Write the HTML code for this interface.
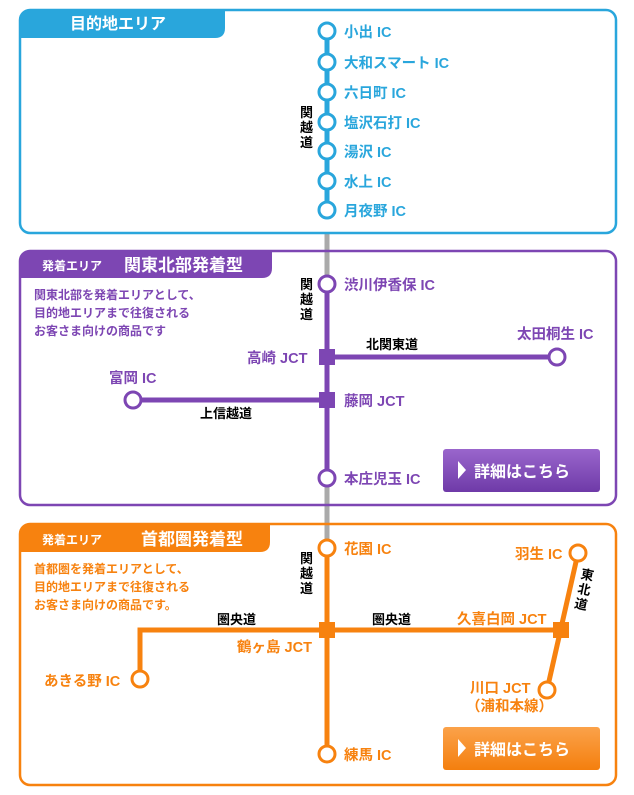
<!DOCTYPE html>
<html><head><meta charset="utf-8"><style>
body{margin:0;background:#fff}
svg text{font-family:"Liberation Sans","Noto Sans CJK JP",sans-serif;font-weight:bold}
</style></head><body>
<svg width="634" height="790" viewBox="0 0 634 790" xmlns="http://www.w3.org/2000/svg">
<defs>
<linearGradient id="pg" x1="0" y1="0" x2="0" y2="1"><stop offset="0" stop-color="#9a66cc"/><stop offset="1" stop-color="#6f3aa8"/></linearGradient>
<linearGradient id="og" x1="0" y1="0" x2="0" y2="1"><stop offset="0" stop-color="#fba24a"/><stop offset="1" stop-color="#f47f0e"/></linearGradient>
</defs>
<line x1="327" y1="215" x2="327" y2="280" stroke="#aaa" stroke-width="5"/>
<line x1="327" y1="485" x2="327" y2="545" stroke="#aaa" stroke-width="5"/>
<rect x="20" y="10" width="596" height="223" rx="10" fill="#fff" stroke="#29a6dc" stroke-width="2.5"/>
<path d="M20 20 Q20 10 30 10 L225 10 L225 28 Q225 38 215 38 L20 38 Z" fill="#29a6dc"/>
<text x="70" y="29" fill="#fff" font-size="16">目的地エリア</text>
<line x1="327" y1="31" x2="327" y2="210" stroke="#29a6dc" stroke-width="5"/>
<g fill="#fff" stroke="#29a6dc" stroke-width="3">
<circle cx="327" cy="31" r="8"/><circle cx="327" cy="62" r="8"/><circle cx="327" cy="92" r="8"/><circle cx="327" cy="122" r="8"/><circle cx="327" cy="151" r="8"/><circle cx="327" cy="181" r="8"/><circle cx="327" cy="210" r="8"/></g>
<g fill="#29a6dc" font-size="14.5">
<text x="344" y="37">小出 IC</text><text x="344" y="68">大和スマート IC</text><text x="344" y="98">六日町 IC</text><text x="344" y="128">塩沢石打 IC</text><text x="344" y="157">湯沢 IC</text><text x="344" y="187">水上 IC</text><text x="344" y="216">月夜野 IC</text></g>
<g font-size="13" fill="#000"><text x="300" y="117">関</text><text x="300" y="132">越</text><text x="300" y="147">道</text></g>
<rect x="20" y="251" width="596" height="254" rx="10" fill="none" stroke="#7d46b3" stroke-width="2.5"/>
<path d="M20 261 Q20 251 30 251 L272 251 L272 268 Q272 278 262 278 L20 278 Z" fill="#7d46b3"/>
<text x="42" y="270" fill="#fff" font-size="12">発着エリア</text>
<text x="124" y="271" fill="#fff" font-size="17">関東北部発着型</text>
<g fill="#7d46b3" font-size="12"><text x="34" y="299">関東北部を発着エリアとして、</text><text x="34" y="317">目的地エリアまで往復される</text><text x="34" y="335">お客さま向けの商品です</text></g>
<line x1="327" y1="278" x2="327" y2="478" stroke="#7d46b3" stroke-width="5"/>
<line x1="327" y1="357" x2="557" y2="357" stroke="#7d46b3" stroke-width="5"/>
<line x1="133" y1="400" x2="327" y2="400" stroke="#7d46b3" stroke-width="5"/>
<rect x="319" y="349" width="16" height="16" fill="#7d46b3"/><rect x="319" y="392" width="16" height="16" fill="#7d46b3"/>
<g fill="#fff" stroke="#7d46b3" stroke-width="3"><circle cx="327" cy="284" r="8"/><circle cx="327" cy="478" r="8"/><circle cx="557" cy="357" r="8"/><circle cx="133" cy="400" r="8"/></g>
<g fill="#7d46b3" font-size="14.5"><text x="344" y="290">渋川伊香保 IC</text><text x="247" y="363">高崎 JCT</text><text x="344" y="406">藤岡 JCT</text><text x="344" y="484">本庄児玉 IC</text><text x="517" y="339">太田桐生 IC</text><text x="109" y="383">富岡 IC</text></g>
<g font-size="13" fill="#000"><text x="300" y="289">関</text><text x="300" y="304">越</text><text x="300" y="319">道</text><text x="366" y="349">北関東道</text><text x="200" y="418">上信越道</text></g>
<rect x="443" y="449" width="157" height="43" rx="3" fill="url(#pg)"/>
<path d="M458 461 L466 470 L458 479 Z" fill="#fff"/>
<text x="474" y="477" fill="#fff" font-size="16">詳細はこちら</text>
<rect x="20" y="524" width="596" height="261" rx="10" fill="none" stroke="#f7820f" stroke-width="2.5"/>
<path d="M20 534 Q20 524 30 524 L270 524 L270 542 Q270 552 260 552 L20 552 Z" fill="#f7820f"/>
<text x="42" y="544" fill="#fff" font-size="12">発着エリア</text>
<text x="141" y="545" fill="#fff" font-size="17">首都圏発着型</text>
<g fill="#f7820f" font-size="12"><text x="34" y="573">首都圏を発着エリアとして、</text><text x="34" y="591">目的地エリアまで往復される</text><text x="34" y="609">お客さま向けの商品です。</text></g>
<g stroke="#f7820f" stroke-width="5" fill="none">
<line x1="327" y1="548" x2="327" y2="754"/>
<polyline points="140,679 140,630 561,630"/>
<line x1="578" y1="553" x2="547" y2="690"/></g>
<rect x="319" y="622" width="16" height="16" fill="#f7820f"/><rect x="553" y="622" width="16" height="16" fill="#f7820f"/>
<g fill="#fff" stroke="#f7820f" stroke-width="3"><circle cx="327" cy="548" r="8"/><circle cx="327" cy="754" r="8"/><circle cx="140" cy="679" r="8"/><circle cx="578" cy="553" r="8"/><circle cx="547" cy="690" r="8"/></g>
<g fill="#f7820f" font-size="14.5"><text x="344" y="554">花園 IC</text><text x="344" y="760">練馬 IC</text><text x="237" y="652">鶴ヶ島 JCT</text><text x="44" y="686">あきる野 IC</text><text x="515" y="559">羽生 IC</text><text x="457" y="624">久喜白岡 JCT</text><text x="470" y="693">川口 JCT</text><text x="466" y="711">（浦和本線）</text></g>
<g font-size="13" fill="#000"><text x="300" y="563">関</text><text x="300" y="578">越</text><text x="300" y="593">道</text><text x="217" y="624">圏央道</text><text x="372" y="624">圏央道</text>
<g transform="translate(580,578) rotate(12)"><text x="0" y="0">東</text><text x="0" y="15">北</text><text x="0" y="30">道</text></g></g>
<rect x="443" y="727" width="157" height="43" rx="3" fill="url(#og)"/>
<path d="M458 739 L466 748 L458 757 Z" fill="#fff"/>
<text x="474" y="755" fill="#fff" font-size="16">詳細はこちら</text>
</svg>
</body></html>
